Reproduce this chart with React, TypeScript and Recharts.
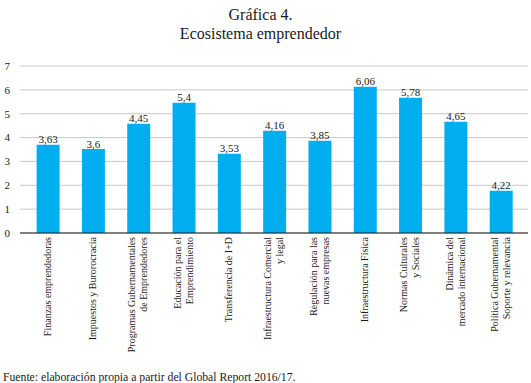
import React from "react";
import { BarChart, Bar, XAxis, YAxis, CartesianGrid, LabelList } from "recharts";

const categories: string[][] = [
  ["Finanzas emprendedoras"],
  ["Impuestos y Burorocracia"],
  ["Programas Gubernamentales", "de Emprendedores"],
  ["Educación para el", "Emprendimiento"],
  ["Transferencia de I+D"],
  ["Infraestructura Comercial", "y legal"],
  ["Regulación para las", "nuevas empresas"],
  ["Infraestructura Física"],
  ["Normas Culturales", "y Sociales"],
  ["Dinámica del", "mercado internacional"],
  ["Política Gubernamental", "Soporte y relevancia"],
];
const barValues: number[] = [3.7, 3.52, 4.58, 5.46, 3.32, 4.29, 3.87, 6.13, 5.67, 4.66, 1.77];
const valueLabels: string[] = ["3,63", "3,6", "4,45", "5,4", "3,53", "4,16", "3,85", "6,06", "5,78", "4,65", "4,22"];
const yTicks: number[] = [0, 1, 2, 3, 4, 5, 6, 7];

const data = categories.map((c, i) => ({
  name: c.join("\n"),
  value: barValues[i],
  label: valueLabels[i],
}));

const FONT = "Liberation Serif, DejaVu Serif";

const CatTick = (props: any) => {
  const { x, y, payload } = props;
  const lines: string[] = String(payload.value).split("\n");
  const spacing = 12;
  const n = lines.length;
  return (
    <g transform={`translate(${x},${y})`}>
      <text transform="rotate(-90)" textAnchor="end" style={{ fontFamily: FONT }} fontSize={10} fill="#1a1a1a">
        {lines.map((l, i) => (
          <tspan key={i} x={0} y={(i - (n - 1) / 2) * spacing - 1} dy="0.35em">
            {l}
          </tspan>
        ))}
      </text>
    </g>
  );
};

const ValueLabel = (props: any) => {
  const { x, y, width, value } = props;
  return (
    <text x={x + width / 2} y={y - 1.5} textAnchor="middle" style={{ fontFamily: FONT }} fontSize={11} fill="#1a1a1a">
      {value}
    </text>
  );
};

export default function App() {
  return (
    <div style={{ position: "absolute", left: 0, top: 0, width: 531, height: 383, background: "#fff", overflow: "hidden", fontFamily: FONT }}>
      <div style={{ position: "absolute", left: 0, top: 6, width: 521, textAlign: "center", fontFamily: FONT, fontSize: 16, lineHeight: "18.5px", color: "#1a1a1a" }}>
        <div>Gráfica 4.</div>
        <div>Ecosistema emprendedor</div>
      </div>
      <div style={{ position: "absolute", left: 0, top: 0 }}>
        <BarChart width={531} height={383} data={data} margin={{ top: 66, right: 3, left: 0, bottom: 0 }} barSize={23} style={{ fontFamily: FONT }}>
          <CartesianGrid vertical={false} stroke="#c8c8c8" strokeWidth={1} />
          <XAxis
            dataKey="name"
            interval={0}
            height={150}
            tickLine={false}
            tickSize={0}
            tickMargin={4}
            axisLine={{ stroke: "#1a1a1a", strokeWidth: 1 }}
            padding={{ left: 5.6, right: 4 }}
            tick={<CatTick />}
          />
          <YAxis
            width={20}
            domain={[0, 7]}
            ticks={yTicks}
            interval={0}
            axisLine={false}
            tickLine={false}
            tickSize={0}
            tickMargin={10}
            tick={{ fontFamily: FONT, fontSize: 11, fill: "#1a1a1a" }}
          />
          <Bar dataKey="value" fill="#00aeef" isAnimationActive={false}>
            <LabelList dataKey="label" content={<ValueLabel />} />
          </Bar>
        </BarChart>
      </div>
      <div style={{ position: "absolute", left: 3, top: 370.5, fontFamily: FONT, fontSize: 11.7, lineHeight: "13px", color: "#1a1a1a", whiteSpace: "nowrap" }}>
        Fuente: elaboración propia a partir del Global Report 2016/17.
      </div>
    </div>
  );
}
